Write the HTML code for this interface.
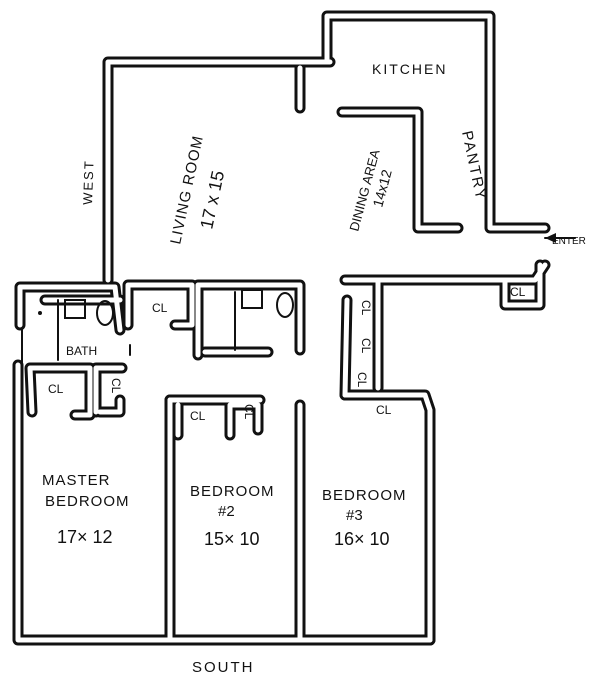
<!DOCTYPE html>
<html><head><style>
html,body{margin:0;padding:0;background:#fff;}
svg{display:block}
text{font-family:"Liberation Sans",sans-serif;fill:#111;}
.o{fill:none;stroke:#111;stroke-width:11;stroke-linecap:round;stroke-linejoin:round}
.i{fill:none;stroke:#fff;stroke-width:5;stroke-linecap:round;stroke-linejoin:round}
.t{fill:none;stroke:#111;stroke-width:2;stroke-linecap:round}
</style></head><body>
<svg width="600" height="681" viewBox="0 0 600 681" xmlns="http://www.w3.org/2000/svg">
<defs>
<g id="w">
<polyline points="108,280 108,62 330,62"/>
<polyline points="300,68 300,108"/>
<polyline points="327,62 327,16 490,16 490,228 545,228"/>
<polyline points="342,112 418,112 418,228 458,228"/>
<polyline points="20,325 20,287 115,287 120,330"/>
<polyline points="45,300 120,300"/>
<polyline points="128,325 128,285 192,285 192,325 175,325"/>
<polyline points="198,355 198,285 300,285 300,350"/>
<polyline points="205,352 268,352"/>
<polyline points="345,280 535,280 545,265"/>
<polyline points="505,280 505,305 540,305 540,265"/>
<polyline points="378,282 378,388"/>
<polyline points="347,300 345,395"/>
<polyline points="345,395 425,395 430,410 430,640"/>
<polyline points="18,365 18,640 430,640"/>
<polyline points="32,412 30,368 90,368 90,415 75,415"/>
<polyline points="96,412 96,368 122,368"/>
<polyline points="120,400 120,412 100,412"/>
<polyline points="170,400 170,640"/>
<polyline points="170,400 260,400"/>
<polyline points="178,435 178,405"/>
<polyline points="230,435 230,405 258,405 258,430"/>
<polyline points="300,405 300,640"/>
</g>
</defs>
<use href="#w" class="o"/>
<use href="#w" class="i"/>
<line class="t" x1="58" y1="300" x2="58" y2="360"/>
<line class="t" x1="235" y1="292" x2="235" y2="350"/>
<ellipse class="t" cx="105" cy="313" rx="8" ry="12"/>
<ellipse class="t" cx="285" cy="305" rx="8" ry="12"/>
<rect class="t" x="65" y="300" width="20" height="18"/>
<rect class="t" x="242" y="290" width="20" height="18"/>
<circle cx="40" cy="313" r="2" fill="#111"/>
<line class="t" x1="22" y1="330" x2="22" y2="365"/>
<line class="t" x1="130" y1="355" x2="130" y2="345"/>
<line class="t" x1="545" y1="238" x2="575" y2="238"/>
<polygon points="545,238 556,233 556,243" fill="#111"/>
<text x="372" y="74" font-size="14" letter-spacing="2">KITCHEN</text>
<text transform="translate(462,132) rotate(78)" font-size="15" letter-spacing="2">PANTRY</text>
<text transform="translate(358,232) rotate(-75)" font-size="13">DINING AREA</text>
<text transform="translate(382,208) rotate(-75)" font-size="14">14x12</text>
<text transform="translate(180,245) rotate(-78)" font-size="15" letter-spacing="1">LIVING ROOM</text>
<text transform="translate(212,230) rotate(-78)" font-size="18">17 x 15</text>
<text transform="translate(92,205) rotate(-88)" font-size="13" letter-spacing="2">WEST</text>
<text x="552" y="244" font-size="10">ENTER</text>
<text x="66" y="355" font-size="12">BATH</text>
<text x="510" y="296" font-size="12">CL</text>
<text x="152" y="312" font-size="12">CL</text>
<text x="48" y="393" font-size="12">CL</text>
<text x="190" y="420" font-size="12">CL</text>
<text x="376" y="414" font-size="12">CL</text>
<text transform="translate(112,378) rotate(90)" font-size="12">CL</text>
<text transform="translate(245,404) rotate(90)" font-size="12">CL</text>
<text transform="translate(362,300) rotate(90)" font-size="12">CL</text>
<text transform="translate(362,338) rotate(90)" font-size="12">CL</text>
<text transform="translate(358,372) rotate(90)" font-size="12">CL</text>
<text x="42" y="485" font-size="15" letter-spacing="1">MASTER</text>
<text x="45" y="506" font-size="15" letter-spacing="1">BEDROOM</text>
<text x="57" y="543" font-size="18">17× 12</text>
<text x="190" y="496" font-size="15" letter-spacing="1">BEDROOM</text>
<text x="218" y="516" font-size="15">#2</text>
<text x="204" y="545" font-size="18">15× 10</text>
<text x="322" y="500" font-size="15" letter-spacing="1">BEDROOM</text>
<text x="346" y="520" font-size="15">#3</text>
<text x="334" y="545" font-size="18">16× 10</text>
<text x="192" y="672" font-size="15" letter-spacing="2">SOUTH</text>
</svg>
</body></html>
